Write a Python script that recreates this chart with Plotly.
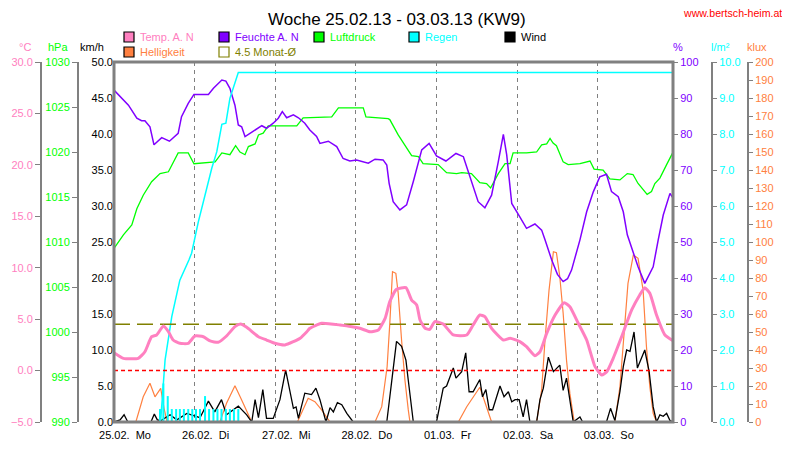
import plotly.graph_objects as go

# ---------------- data (x in hours from 25.02.13 00:00) ----------------
DAY_TICKS = [0, 24, 48, 72, 96, 120, 144]
DAY_LABELS = ["25.02.\u00a0 Mo", "26.02.\u00a0 Di", "27.02.\u00a0 Mi", "28.02.\u00a0 Do",
              "01.03.\u00a0 Fr", "02.03.\u00a0 Sa", "03.03.\u00a0 So"]
X_MAX = 166.4

temp_h = [0, 2.8, 7.2, 9.2, 11.2, 12.7, 14.7, 16.2, 17.6, 19.6, 22.1, 24.1, 26.6, 28.6, 31, 33.5,
          36, 37.7, 39.5, 43, 45.4, 47.9, 50.9, 53.4, 55.4, 57.4, 58.3, 61.8, 67.3, 73.2, 76.2,
          78.7, 80.7, 82.1, 84.1, 86.9, 88.6, 90.1, 91.1, 92.6, 94.0, 95.5, 98, 101, 105, 106.9,
          108.9, 110.4, 112.4, 115.9, 117.9, 120.8, 122.8, 125.3, 126.8, 128.8, 131.3, 134,
          135.7, 138.2, 140.7, 143.2, 145.2, 146.7, 148.6, 151.1, 154.1, 156.5, 158, 159.5,
          161.5, 164, 166.4]
temp_c = [1.74, 1.19, 1.19, 1.83, 3.29, 3.46, 4.33, 3.78, 2.97, 2.65, 2.65, 3.36, 3.29, 2.88, 2.75,
          3.36, 4.27, 4.53, 4.21, 3.29, 2.97, 2.65, 2.49, 2.81, 3.14, 3.78, 4.11, 4.6, 4.43, 4.11,
          3.78, 3.95, 5.08, 6.7, 7.9, 8.06, 6.86, 6.38, 4.92, 4.11, 4.01, 4.76, 4.53, 3.46, 3.46,
          4.43, 5.4, 5.24, 4.11, 2.97, 3.14, 2.81, 2.32, 1.45, 1.83, 3.62, 5.4, 6.6, 6.21, 4.6,
          2.97, 0.38, -0.43, -0.11, 1.19, 3.29, 5.89, 7.35, 8.06, 7.51, 5.4, 3.46, 2.91]

hum_h = [0, 1.8, 4.3, 6.8, 8.2, 9.2, 10.7, 11.9, 14.2, 16.5, 19.1, 20.1, 22.1, 23.8, 28.1, 29.6,
         32.1, 33.3, 34.5, 36, 37, 38, 39, 41.5, 44, 45.4, 47.4, 48.9, 50.1, 51.4, 53.4, 54.9,
         56.8, 58.3, 60.3, 61.3, 63.8, 66.3, 68.2, 70.2, 72.2, 75.7, 77.7, 80.1, 81.2, 81.9,
         83.1, 85.1, 87.1, 89.1, 91.6, 93.8, 96, 98.8, 101.8, 104, 106, 108.4, 110.4, 112.4,
         114.4, 115.9, 116.9, 118.4, 120.8, 122.8, 125.3, 127.3, 128.3, 130.3, 132, 133.7, 135,
         136.2, 138.7, 140.7, 142.7, 144.6, 146.6, 148.1, 150.1, 151.6, 152.8, 154.1, 156, 158,
         160.5, 162, 163.5, 165.5, 166.4]
hum_pct = [92.2, 90.4, 88, 84.4, 83.7, 83.7, 82, 77, 79, 78, 80.2, 84.8, 88.5, 91, 91, 92.7,
           95, 94.7, 92.7, 88, 82.5, 82, 79.3, 80.8, 82.3, 81.6, 83, 84.4, 86.2, 84.5, 85.3, 84.5,
           83, 81.1, 79.3, 77.4, 78, 76.5, 73.2, 72.5, 72.8, 71.9, 73, 72.8, 71.4, 66.3,
           61.2, 58.9, 60.3, 66.8, 75.6, 77.4, 73.9, 72.5, 74.6, 73.7, 68.1, 61.2, 59.5, 63,
           72.3, 79.9, 74.2, 60.7, 57, 53.8, 55, 53.3, 50.6, 45, 41, 39, 39.8,
           42.2, 50.6, 58.4, 64, 68.1, 68.8, 64, 62.6, 58.4, 52, 48.5, 43.1, 38.5,
           43.1, 50.6, 57.5, 63.5, 62.2]

pres_h = [0, 2.8, 5.3, 6.8, 8.7, 11.2, 13.7, 16.2, 19.1, 22.1, 23.8, 28.6, 30.1, 32.1, 34.5, 36.2,
          37.5, 39, 40, 42, 43, 44.4, 45.9, 54.4, 56.3, 64.8, 66.8, 74.2, 75, 81.6, 82.1, 84.6,
          86.6, 88.6, 90.6, 92, 96.5, 99, 102, 103.5, 106.4, 108.9, 110.9, 112.1, 114.4, 116.4,
          117.9, 118.8, 122.8, 125.8, 127.3, 128.8, 129.8, 130.7, 131.7, 133.7, 135.2, 138.7,
          141.7, 142.9, 145.6, 147.6, 150.6, 152.8, 154.5, 156, 158.7, 160, 161, 162.5, 164.5,
          166.3]
pres_hpa = [1009.3, 1010.8, 1011.9, 1013.7, 1015.2, 1016.7, 1017.6, 1017.8, 1019.9, 1019.9, 1018.7,
            1018.9, 1018.9, 1019.9, 1019.7, 1020.7, 1020, 1019.7, 1020.6, 1020.9, 1021.9, 1022.1,
            1022.9, 1022.9, 1023.8, 1023.9, 1024.9, 1024.9, 1023.9, 1023.7, 1023.6, 1021.9,
            1020.8, 1019.6, 1019.5, 1018.7, 1018.6, 1017.7, 1017.6, 1017.7, 1017.6, 1016.6,
            1016.5, 1016, 1017.6, 1018.7, 1018.7, 1019.9, 1019.9, 1020, 1020.8, 1020.9, 1021.5,
            1021, 1020.7, 1018.9, 1018.6, 1018.7, 1019, 1018.1, 1018, 1017, 1016.9, 1017.6,
            1017.5, 1016.5, 1015.3, 1015.6, 1016.5, 1017.1, 1018.6, 1019.9]

rain_sum_h = [0, 13.5, 13.9, 14.7, 15.2, 17.2, 19.6, 22.3, 23.1, 25.1, 27.6, 29.1, 30.6, 32.1,
              33.3, 34.5, 37, 166.4]
rain_sum = [0, 0, 0.05, 1.0, 1.72, 2.93, 3.94, 4.5, 4.69, 5.56, 6.49, 7.05, 7.51, 8.27, 8.3,
            8.99, 9.71, 9.71]

rain_bar_h = [13.7, 14.7, 16.0, 17.2, 18.5, 19.6, 20.8, 22.1, 23.3, 24.4, 25.6, 27.1, 28.3, 29.6,
              30.8, 32.0, 33.3, 34.5, 35.7, 37.0]
rain_bar = [0.36, 1.07, 0.72, 0.36, 0.36, 0.36, 0.36, 0.36, 0.36, 0.36, 0.36, 0.72, 0.36, 0.36,
            0.36, 0.36, 0.36, 0.36, 0.36, 0.36]

wind_h = [0, 1.8, 3, 4, 5, 11, 12, 12.9, 14, 16.7, 18.7, 21.7, 25.6, 28.1, 30, 32, 33.5, 37, 39.5,
          41, 42, 43, 44.3, 45.4, 47.4, 49.4, 51.1, 52.4, 53.4, 54.2, 54.9, 56.8, 58.8, 60.1, 61.3,
          63.1, 64.3, 65.3, 66.5, 67.8, 69.3, 71.2, 81.2, 82.6, 84.1, 85.6, 86.9, 87.6, 89.1, 96,
          98, 99, 101, 101.8, 103.5, 104.7, 105.7, 106.9, 108.9, 109.7, 110.7, 111.7, 112.7,
          114.9, 116.1, 117.4, 118.4, 119.4, 120.6, 121.8, 122.8, 123.8, 125.8, 126.8, 127.8,
          129.3, 130.8, 132.7, 133.7, 134.7, 135.7, 136.7, 138.7, 139.5, 146.6, 147.8, 149.1,
          150.6, 151.6, 152.6, 153.6, 154.8, 155.8, 158, 159.3, 160.5, 161.5, 162.5, 163.5,
          164.5, 165.5, 166.4]
wind_kmh = [0, 0.3, 1, 0.1, 0, 0, 1.1, 0.3, 0.2, 1, 0.3, 1.2, 0.6, 2.9, 1.4, 3.1, 1, 2.2, 1,
            0, 3.1, 0.6, 4.5, 0.5, 0.5, 3.1, 7.2, 4, 1.9, 2.1, 0.5, 4, 3.8, 4.7, 3.1,
            0, 2, 1.4, 2.7, 2.4, 1.2, 0, 0, 5.4, 11.2, 10.5, 8.6, 5.8, 0, 0,
            4.7, 5, 7.5, 6.1, 7, 9.6, 4.2, 4.2, 5.9, 3.5, 4.5, 1.7, 1.7,
            5, 3.5, 4.2, 2.8, 3.1, 3.1, 0.7, 3.1, 0, 0, 3.1, 4.7,
            9, 7, 7.9, 4.4, 6.1, 3.1, 0, 0.7, 0, 0, 1.9, 0.2,
            4.2, 7.7, 10, 9.8, 12.5, 7.5, 10, 7, 2.1, 0, 1, 0.8,
            1.2, 0.2, 0]

light_h = [0, 6.5, 8.7, 10.7, 12.2, 13.9, 14.9, 15.7, 16.2, 31.5, 33.5, 36, 38, 40.5, 41, 54.6,
           57.8, 59.8, 61.8, 64.3, 77.7, 79.7, 81.3, 82.1, 82.9, 83.9, 84.6, 85.6, 86.6, 87.6,
           88.1, 102.5, 105, 108.9, 110.4, 112.4, 125.8, 127.3, 128.3, 129.5, 130.8, 131.7,
           132.7, 133.7, 134.7, 135.7, 137, 149.1, 150.6, 151.6, 153, 154.6, 156, 157.5, 158.5,
           159.5, 160.5, 161.5, 166.4]
light_klux = [0, 0, 14, 21.5, 14, 18.7, 7.6, 1, 0, 0, 10.4, 20.2, 12.2, 1.5, 0, 0,
              13.2, 11.3, 6.7, 0, 0, 8.5, 30.7, 54.8, 83.5, 82.6, 71.5, 45.6, 23.3, 6.7,
              0, 0, 8.5, 19.3, 11.3, 0, 0, 17.8, 45.6, 73.3, 94.6, 94.1,
              80.7, 60.4, 34.4, 15.9, 0, 0, 19.6, 45.6, 77, 92.8, 90.9, 73.3, 41.8,
              19.6, 4.8, 0, 0]

MONAT_AVG = 4.5
FROST = 0.0
GRID_C = [5, 10, 15, 20, 25]

# ---------------- layout geometry ----------------
# the page body has an 8px margin, so the figure starts at (8, 8) of the window
OFF = 8
W, H = 782, 444
PX0, PX1, PY0, PY1 = 114, 673, 62, 422  # plot area in window pixels
FONT = "Liberation Sans, Arial, sans-serif"
GRAY = "#808080"
C_TEMP, C_HUM, C_PRES = "#ff80c0", "#8000ff", "#00ff00"
C_RAIN, C_WIND, C_LIGHT, C_AVG = "#00ffff", "#000000", "#ff8040", "#808000"


def fx(p):
    return (p - OFF) / W


def fy(p):
    return 1 - (p - OFF) / H


XD = [fx(PX0), fx(PX1)]
YD = [fy(PY1), fy(PY0)]

fig = go.Figure()
# y1 klux, y2 km/h, y3 hPa, y4 %, y5 l/m2, y6 degC, y7 grid helper
fig.add_trace(go.Bar(x=rain_bar_h, y=rain_bar, yaxis="y5", width=0.6,
                     marker=dict(color=C_RAIN, line=dict(width=0))))
fig.add_trace(go.Scatter(x=light_h, y=light_klux, yaxis="y", mode="lines",
                         line=dict(color=C_LIGHT, width=1.2)))
fig.add_trace(go.Scatter(x=wind_h, y=wind_kmh, yaxis="y2", mode="lines",
                         line=dict(color=C_WIND, width=1.3)))
fig.add_trace(go.Scatter(x=pres_h, y=pres_hpa, yaxis="y3", mode="lines",
                         line=dict(color=C_PRES, width=1.3)))
fig.add_trace(go.Scatter(x=hum_h, y=hum_pct, yaxis="y4", mode="lines",
                         line=dict(color=C_HUM, width=1.5)))
fig.add_trace(go.Scatter(x=rain_sum_h, y=rain_sum, yaxis="y5", mode="lines",
                         line=dict(color=C_RAIN, width=1.5)))
fig.add_trace(go.Scatter(x=[0, X_MAX], y=[FROST, FROST], yaxis="y6", mode="lines",
                         line=dict(color="#ff0000", width=1.5, dash="4px,3px")))
fig.add_trace(go.Scatter(x=[0, X_MAX], y=[MONAT_AVG, MONAT_AVG], yaxis="y6", mode="lines",
                         line=dict(color=C_AVG, width=1.5, dash="16px,7px")))
fig.add_trace(go.Scatter(x=temp_h, y=temp_c, yaxis="y6", mode="lines",
                         line=dict(color=C_TEMP, width=3, shape="spline", smoothing=0.5)))

FS = 11


def tf(c):
    return dict(family=FONT, size=FS, color=c)


common = dict(showgrid=False, zeroline=False, fixedrange=True, automargin=False)

fig.update_layout(
    width=W, height=H, margin=dict(l=0, r=0, t=0, b=0, autoexpand=False),
    paper_bgcolor="white", plot_bgcolor="white", showlegend=False, hovermode=False,
    xaxis=dict(domain=XD, range=[0, X_MAX], anchor="y", tickvals=DAY_TICKS, ticktext=DAY_LABELS,
               showgrid=True, gridcolor=GRAY, griddash="4px,4px", gridwidth=1, zeroline=False,
               ticks="", tickfont=tf("black"), ticklabelshift=11, ticklabelstandoff=5,
               showline=False, fixedrange=True, automargin=False),
    yaxis=dict(domain=YD, range=[0, 200], anchor="free", position=fx(748), side="right",
               tickvals=list(range(0, 201, 10)), tickfont=tf(C_LIGHT), showline=True,
               linecolor=GRAY, linewidth=2, ticks="outside", ticklen=4, tickcolor=GRAY,
               tickwidth=1, **common),
    yaxis2=dict(domain=YD, range=[0, 50], overlaying="y", anchor="x", side="left",
                tickvals=list(range(0, 51, 5)), tickformat=".1f", tickfont=tf("black"),
                ticks="", showline=False, **common),
    yaxis3=dict(domain=YD, range=[990, 1030], overlaying="y", anchor="free", position=fx(78),
                side="left", tickvals=list(range(990, 1031, 5)), tickfont=tf(C_PRES),
                showline=True, linecolor=GRAY, linewidth=2, ticks="outside", ticklen=5,
                tickcolor=GRAY, **common),
    yaxis4=dict(domain=YD, range=[0, 100], overlaying="y", anchor="x", side="right",
                tickvals=list(range(0, 101, 10)), tickfont=tf(C_HUM), ticks="outside",
                ticklen=4, tickcolor=GRAY, showline=False, **common),
    yaxis5=dict(domain=YD, range=[0, 10], overlaying="y", anchor="free", position=fx(712),
                side="right", tickvals=list(range(0, 11)), tickformat=".1f",
                tickfont=tf(C_RAIN), showline=True, linecolor=GRAY, linewidth=2,
                ticks="outside", ticklen=4, tickcolor=GRAY, **common),
    yaxis6=dict(domain=YD, range=[-5, 30], overlaying="y", anchor="free", position=fx(41),
                side="left", tickvals=list(range(-5, 31, 5)), tickformat=".1f",
                tickfont=tf(C_TEMP), showline=True, linecolor=GRAY, linewidth=2,
                ticks="outside", ticklen=5, tickcolor=GRAY, **common),
    yaxis7=dict(domain=YD, range=[-5, 30], overlaying="y", anchor="x", side="left",
                tickvals=GRID_C, showticklabels=False, ticks="", showline=False,
                showgrid=True, gridcolor=GRAY, griddash="4px,4px", gridwidth=1,
                zeroline=False, fixedrange=True, automargin=False),
)

# plot frame
fig.add_shape(type="rect", xref="x domain", yref="y domain", x0=0, x1=1, y0=0, y1=1,
              line=dict(color=GRAY, width=3), layer="above")

ann = []
ann.append(dict(text="Woche 25.02.13 - 03.03.13 (KW9)", x=fx(397), y=fy(8), yanchor="top",
                font=dict(family=FONT, size=17, color="black")))
ann.append(dict(text="www.bertsch-heim.at", x=fx(732), y=fy(13),
                font=dict(family=FONT, size=10.6, color="#ff0000")))

UNITS = [("°C", 25, C_TEMP), ("hPa", 58, C_PRES), ("km/h", 92, "black"),
         ("%", 678, C_HUM), ("l/m²", 720, C_RAIN), ("klux", 757, C_LIGHT)]
for t, x, c in UNITS:
    ann.append(dict(text=t, x=fx(x), y=fy(47), font=dict(family=FONT, size=FS, color=c)))

LEGEND = [("Temp. A. N", C_TEMP, 124, 37, True), ("Feuchte A. N", C_HUM, 219, 37, True),
          ("Luftdruck", C_PRES, 314, 37, True), ("Regen", C_RAIN, 409, 37, True),
          ("Wind", C_WIND, 505, 37, True), ("Helligkeit", C_LIGHT, 124, 52, True),
          ("4.5 Monat-Ø", C_AVG, 219, 52, False)]
for label, col, lx, ly, filled in LEGEND:
    fig.add_shape(type="rect", xref="paper", yref="paper", x0=fx(lx), x1=fx(lx + 10),
                  y0=fy(ly + 5), y1=fy(ly - 5),
                  fillcolor=col if filled else "rgba(0,0,0,0)",
                  line=dict(color="black" if filled else col, width=1.2))
    ann.append(dict(text=label, x=fx(lx + 14), y=fy(ly), xanchor="left",
                    font=dict(family=FONT, size=FS, color=col)))

for a in ann:
    a.setdefault("xanchor", "center")
    a.setdefault("yanchor", "middle")
    a.update(xref="paper", yref="paper", showarrow=False)
fig.update_layout(annotations=ann)

fig.write_html("out.html")
